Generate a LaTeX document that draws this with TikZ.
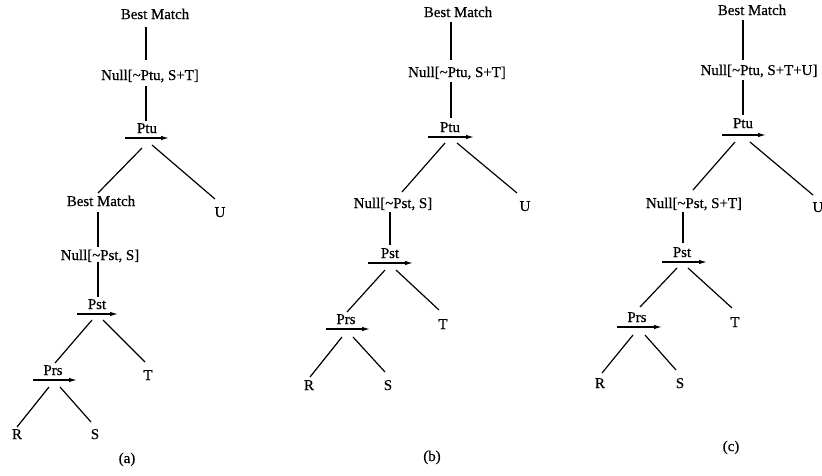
\documentclass[tikz,border=0pt]{standalone}
\usepackage{fontspec}
\setmainfont[FakeBold=0.5]{Liberation Serif}
\usetikzlibrary{arrows.meta}
\tikzset{
  lbl/.style={anchor=base, inner sep=0pt, font=\fontsize{14.9}{16}\selectfont},
  edge/.style={line width=1.2pt},
  arr/.style={line width=1.2pt, -{Latex[length=8pt,width=4.5pt]}}
}
\newcommand{\tld}{\textasciitilde}
\begin{document}
\begin{tikzpicture}[x=1pt,y=-1pt]
\useasboundingbox (0,0) rectangle (822,475);
% ---------------- (a) ----------------
\node[lbl] (BMa1) at (155,19) {Best Match};
\node[lbl] (Na1) at (150,80) {Null[\tld Ptu, S+T]};
\node[lbl] (Pa1) at (147,133) {Ptu};
\node[lbl] (BMa2) at (101,206) {Best Match};
\node[lbl] (Ua) at (220,217) {U};
\node[lbl] (Na2) at (100,260) {Null[\tld Pst, S]};
\node[lbl] (Pa2) at (97,309) {Pst};
\node[lbl] (Ta) at (148,380) {T};
\node[lbl] (Pa3) at (53,375) {Prs};
\node[lbl] (Ra) at (17,439) {R};
\node[lbl] (Sa) at (95,439) {S};
\node[lbl] (capA) at (127,463) {(a)};
\draw[edge] ([shift={(-9,8)}]BMa1.base) -- ([shift={(-4,-20)}]Na1.base);
\draw[edge] ([shift={(-4,6)}]Na1.base) -- ([shift={(-1,-12)}]Pa1.base);
\draw[arr] ([shift={(-22,5)}]Pa1.base) -- ([shift={(22,5)}]Pa1.base);
\draw[edge] ([shift={(-5,15)}]Pa1.base) -- ([shift={(-3,-13)}]BMa2.base);
\draw[edge] ([shift={(5,12)}]Pa1.base) -- ([shift={(-5,-18)}]Ua.base);
\draw[edge] ([shift={(-3,6)}]BMa2.base) -- ([shift={(-2,-13)}]Na2.base);
\draw[edge] ([shift={(-2,2)}]Na2.base) -- ([shift={(1,-12)}]Pa2.base);
\draw[arr] ([shift={(-20,5)}]Pa2.base) -- ([shift={(21,5)}]Pa2.base);
\draw[edge] ([shift={(-5,11)}]Pa2.base) -- ([shift={(2,-12)}]Pa3.base);
\draw[edge] ([shift={(6,11)}]Pa2.base) -- ([shift={(-3,-18)}]Ta.base);
\draw[arr] ([shift={(-20,5)}]Pa3.base) -- ([shift={(24,5)}]Pa3.base);
\draw[edge] ([shift={(-4,12)}]Pa3.base) -- ([shift={(0,-12)}]Ra.base);
\draw[edge] ([shift={(7,12)}]Pa3.base) -- ([shift={(-4,-17)}]Sa.base);
% ---------------- (b) ----------------
\node[lbl] (BMb1) at (458,17) {Best Match};
\node[lbl] (Nb1) at (457,77) {Null[\tld Ptu, S+T]};
\node[lbl] (Pb1) at (450,132) {Ptu};
\node[lbl] (Ub) at (525,211) {U};
\node[lbl] (Nb2) at (393,208) {Null[\tld Pst, S]};
\node[lbl] (Pb2) at (390,258) {Pst};
\node[lbl] (Tb) at (443,329) {T};
\node[lbl] (Pb3) at (346,324) {Prs};
\node[lbl] (Rb) at (309,390) {R};
\node[lbl] (Sb) at (388,390) {S};
\node[lbl] (capB) at (432,461) {(b)};
\draw[edge] ([shift={(-7,5)}]BMb1.base) -- ([shift={(-6,-17)}]Nb1.base);
\draw[edge] ([shift={(-6,5)}]Nb1.base) -- ([shift={(1,-14)}]Pb1.base);
\draw[arr] ([shift={(-22,5)}]Pb1.base) -- ([shift={(24,5)}]Pb1.base);
\draw[edge] ([shift={(-5,11)}]Pb1.base) -- ([shift={(9,-16)}]Nb2.base);
\draw[edge] ([shift={(7,11)}]Pb1.base) -- ([shift={(-8,-18)}]Ub.base);
\draw[edge] ([shift={(-3,4)}]Nb2.base) -- ([shift={(0,-13)}]Pb2.base);
\draw[arr] ([shift={(-22,5)}]Pb2.base) -- ([shift={(23,5)}]Pb2.base);
\draw[edge] ([shift={(-5,12)}]Pb2.base) -- ([shift={(1,-12)}]Pb3.base);
\draw[edge] ([shift={(6,12)}]Pb2.base) -- ([shift={(-4,-19)}]Tb.base);
\draw[arr] ([shift={(-20,5)}]Pb3.base) -- ([shift={(24,5)}]Pb3.base);
\draw[edge] ([shift={(-4,13)}]Pb3.base) -- ([shift={(1,-13)}]Rb.base);
\draw[edge] ([shift={(7,13)}]Pb3.base) -- ([shift={(-3,-18)}]Sb.base);
% ---------------- (c) ----------------
\node[lbl] (BMc1) at (752,15) {Best Match};
\node[lbl] (Nc1) at (759,75) {Null[\tld Ptu, S+T+U]};
\node[lbl] (Pc1) at (743,128) {Ptu};
\node[lbl] (Uc) at (818,212) {U};
\node[lbl] (Nc2) at (694,208) {Null[\tld Pst, S+T]};
\node[lbl] (Pc2) at (682,257) {Pst};
\node[lbl] (Tc) at (735,327) {T};
\node[lbl] (Pc3) at (637,322) {Prs};
\node[lbl] (Rc) at (600,388) {R};
\node[lbl] (Sc) at (680,388) {S};
\node[lbl] (capC) at (731,451) {(c)};
\draw[edge] ([shift={(-9,5)}]BMc1.base) -- ([shift={(-16,-15)}]Nc1.base);
\draw[edge] ([shift={(-16,5)}]Nc1.base) -- ([shift={(0,-13)}]Pc1.base);
\draw[arr] ([shift={(-21,7)}]Pc1.base) -- ([shift={(23,7)}]Pc1.base);
\draw[edge] ([shift={(-8,14)}]Pc1.base) -- ([shift={(-1,-18)}]Nc2.base);
\draw[edge] ([shift={(7,14)}]Pc1.base) -- ([shift={(-5,-17)}]Uc.base);
\draw[edge] ([shift={(-11,4)}]Nc2.base) -- ([shift={(1,-14)}]Pc2.base);
\draw[arr] ([shift={(-20,5)}]Pc2.base) -- ([shift={(25,5)}]Pc2.base);
\draw[edge] ([shift={(-5,11)}]Pc2.base) -- ([shift={(3,-15)}]Pc3.base);
\draw[edge] ([shift={(6,11)}]Pc2.base) -- ([shift={(-3,-19)}]Tc.base);
\draw[arr] ([shift={(-20,5)}]Pc3.base) -- ([shift={(25,5)}]Pc3.base);
\draw[edge] ([shift={(-4,13)}]Pc3.base) -- ([shift={(2,-15)}]Rc.base);
\draw[edge] ([shift={(8,13)}]Pc3.base) -- ([shift={(-4,-18)}]Sc.base);
\end{tikzpicture}
\end{document}
